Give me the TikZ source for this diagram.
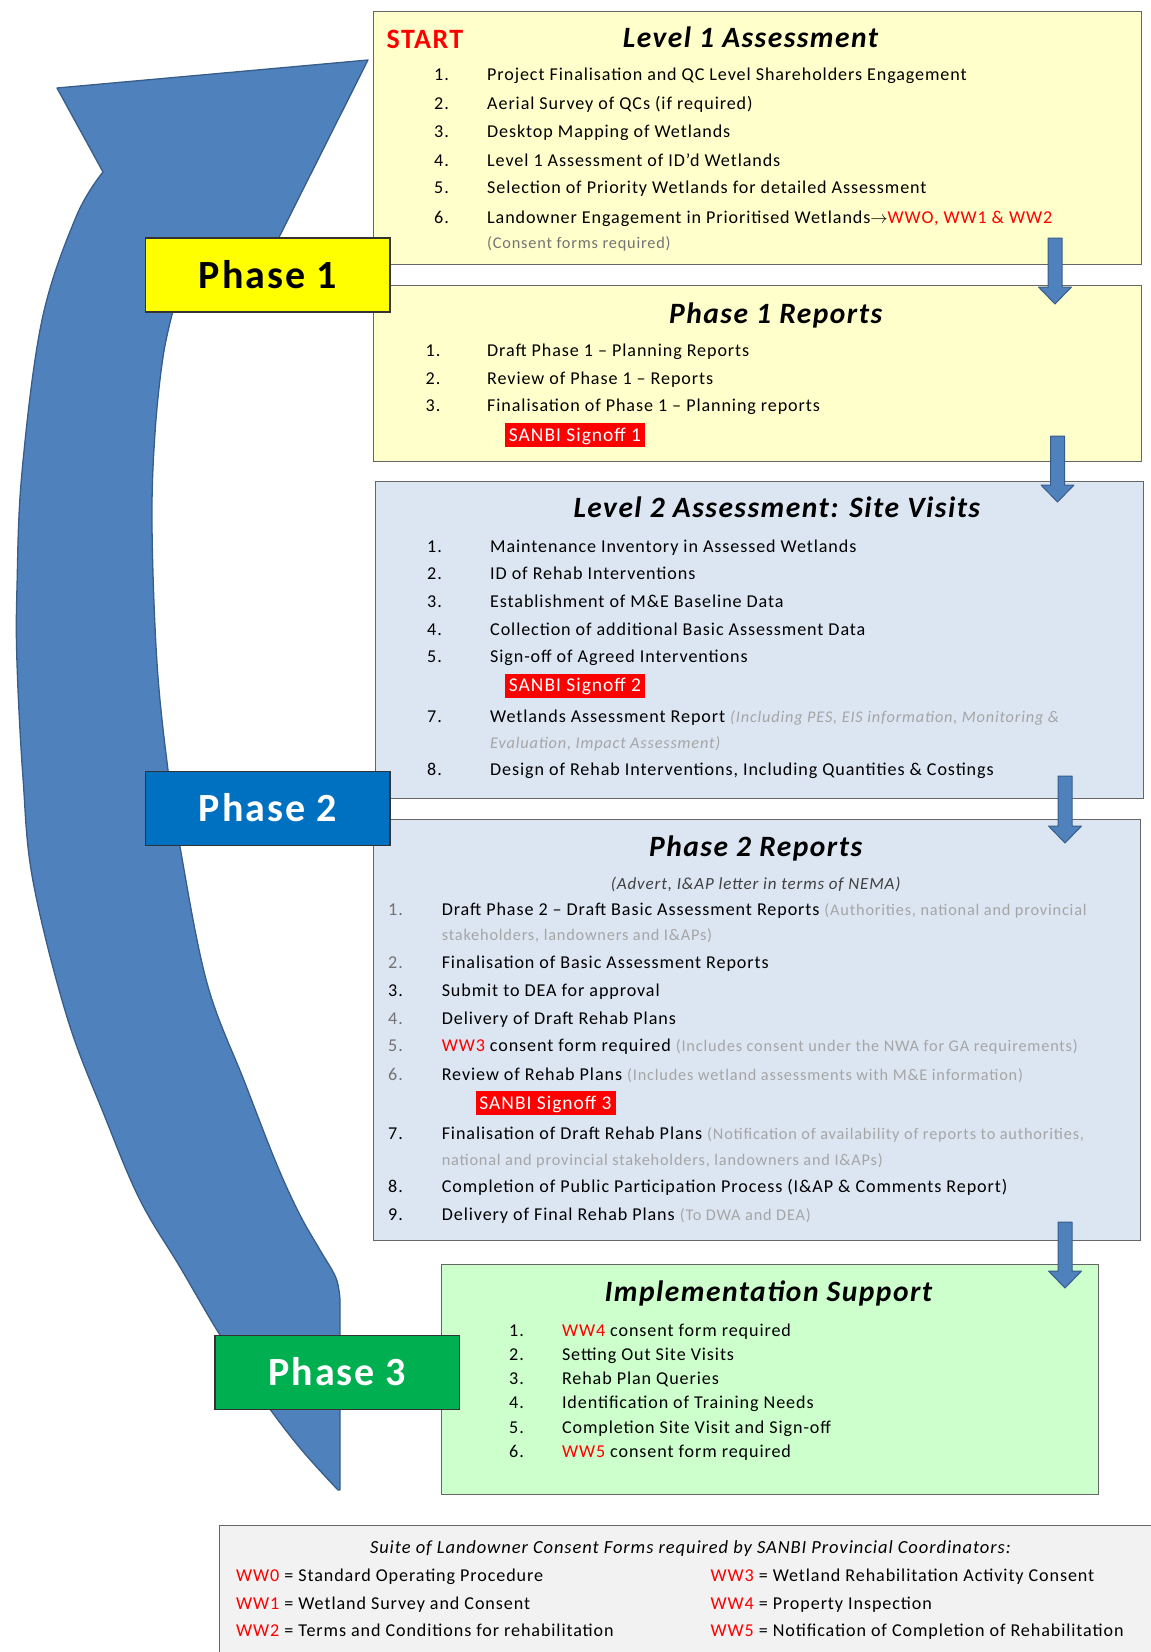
\documentclass[tikz,border=0pt]{standalone}
\usepackage{fontspec}
\setmainfont{Carlito}[LetterSpace=5]
\usetikzlibrary{positioning}
\definecolor{arrowblue}{RGB}{79,129,189}
\definecolor{arrowedge}{RGB}{56,93,138}
\definecolor{paleyellow}{RGB}{255,255,204}
\definecolor{paleblue}{RGB}{220,230,242}
\definecolor{palegreen}{RGB}{204,255,204}
\definecolor{legendgray}{RGB}{242,242,242}
\definecolor{phaseyellow}{RGB}{255,255,0}
\definecolor{phaseblue}{RGB}{0,112,192}
\definecolor{phasegreen}{RGB}{0,176,80}
\definecolor{wwred}{RGB}{255,0,0}
\definecolor{remarkgray}{RGB}{165,165,165}
\newcommand{\rmk}[1]{{\fontsize{16.3}{19}\selectfont\color{remarkgray}#1}}

\begin{document}
\begin{tikzpicture}[x=1pt, y=-1pt,
    stepbox/.style={draw=black!60, line width=1.3pt, rectangle, inner sep=0pt, anchor=north west},
    phasebox/.style={draw=black!80, line width=1.3pt, rectangle, inner sep=0pt, minimum width=244.5pt, minimum height=74pt, font=\fontsize{40}{44}\selectfont\bfseries, text height=26pt, text depth=0pt},
    boxtitle/.style={inner sep=0pt, font=\fontsize{29.5}{34}\selectfont\bfseries\itshape, text height=18.5pt, text depth=0pt},
    listitem/.style={anchor=west, inner sep=0pt, font=\fontsize{18.1}{22}\selectfont, text height=12pt, text depth=0pt},
    signoff/.style={fill=wwred, text=white, inner sep=0pt, minimum width=140pt, minimum height=24pt, font=\fontsize{19.5}{22}\selectfont, text height=12.5pt, text depth=0pt},
    downarrow/.style={fill=arrowblue, draw=arrowedge, line width=1pt, line join=round}
]
\useasboundingbox (0,0) rectangle (1151,1652);

% big curved arrow behind everything
\draw[fill=arrowblue, draw=arrowedge, line width=1.3pt, line join=round]
    (368,60) -- (57,88)
    -- plot[smooth, tension=0.6] coordinates {(103,172) (76,217) (42,320) (22,472) (17,587) (17,663) (23,778) (33,881) (67,1017) (105,1117) (140,1200) (180,1267) (220,1335) (262,1398) (300,1448) (338,1490)}
    -- (340,1490)
    -- plot[smooth, tension=0.6] coordinates {(340,1300) (336,1278) (320,1250) (300,1215) (277,1165) (245,1083) (207,983) (180,847) (168,770) (157,663) (152,525) (155,433) (163,357) (173,311)}
    -- (245,305) -- cycle;

% boxes
\node[stepbox, fill=paleyellow, minimum width=768pt, minimum height=253pt] (lvlone) at (373,10.5) {};
\node[stepbox, fill=paleyellow, minimum width=768pt, minimum height=176pt] (repone) at (373,284.6) {};
\node[stepbox, fill=paleblue, minimum width=767.5pt, minimum height=317.4pt] (lvltwo) at (375,480.6) {};
\node[stepbox, fill=paleblue, minimum width=767pt, minimum height=420.5pt] (reptwo) at (373,819) {};
\node[stepbox, fill=palegreen, minimum width=657.4pt, minimum height=229.5pt] (impl) at (440.6,1264) {};
\node[stepbox, fill=legendgray, minimum width=960pt, minimum height=150pt] (legend) at (219,1525) {};

% Level 1 Assessment
\node[boxtitle, text=wwred, font=\fontsize{28}{32}\selectfont\bfseries] (start) at (425,39) {START};
\node[boxtitle] (lvlone-title) at (750.5,38) {Level 1 Assessment};
\foreach \y/\n/\t in {74.8/1/{Project Finalisation and QC Level Shareholders Engagement},
    103.3/2/{Aerial Survey of QCs (if required)},
    131.8/3/{Desktop Mapping of Wetlands},
    160.2/4/{Level 1 Assessment of ID’d Wetlands},
    187.6/5/{Selection of Priority Wetlands for detailed Assessment},
    217.1/6/{Landowner Engagement in Prioritised Wetlands$\rightarrow${\color{wwred}WWO, WW1 \& WW2}}}
{
    \node[listitem] (lvlone-num\n) at (434,\y) {\n.};
    \node[listitem] (lvlone-item\n) at (487,\y) {\t};
}
\node[listitem] (lvlone-note) at (487,242.4) {\rmk{\color{black!55}(Consent forms required)}};

% Phase 1 Reports
\node[boxtitle] (repone-title) at (775.7,314) {Phase 1 Reports};
\foreach \y/\n/\t in {350/1/{Draft Phase 1 – Planning Reports},
    378.4/2/{Review of Phase 1 – Reports},
    405.8/3/{Finalisation of Phase 1 – Planning reports}}
{
    \node[listitem] (repone-num\n) at (425.5,\y) {\n.};
    \node[listitem] (repone-item\n) at (487,\y) {\t};
}
\node[signoff] (sanbione) at (575,435) {SANBI Signoff 1};

% Level 2 Assessment
\node[boxtitle] (lvltwo-title) at (776.8,508) {Level 2 Assessment: Site Visits};
\foreach \y/\n/\t in {546/1/{Maintenance Inventory in Assessed Wetlands},
    573.4/2/{ID of Rehab Interventions},
    601.8/3/{Establishment of M\&E Baseline Data},
    629.2/4/{Collection of additional Basic Assessment Data},
    656.6/5/{Sign-off of Agreed Interventions},
    716.7/7/{Wetlands Assessment Report \rmk{\itshape (Including PES, EIS information, Monitoring \&}},
    769.4/8/{Design of Rehab Interventions, Including Quantities \& Costings}}
{
    \node[listitem] (lvltwo-num\n) at (427,\y) {\n.};
    \node[listitem] (lvltwo-item\n) at (490,\y) {\t};
}
\node[listitem] (lvltwo-cont) at (490,742) {\rmk{\itshape Evaluation, Impact Assessment)}};
\node[signoff] (sanbitwo) at (575,685.6) {SANBI Signoff 2};

% Phase 2 Reports
\node[boxtitle] (reptwo-title) at (755.7,847.4) {Phase 2 Reports};
\node[listitem, anchor=center, font=\fontsize{17}{20}\selectfont\itshape, text=black!75] (reptwo-sub) at (755.7,883.3) {(Advert, I\&AP letter in terms of NEMA)};
\foreach \y/\n/\c/\t in {909.6/1/black!55/{Draft Phase 2 – Draft Basic Assessment Reports \rmk{(Authorities, national and provincial}},
    962.3/2/black!55/{Finalisation of Basic Assessment Reports},
    990.8/3/black/{Submit to DEA for approval},
    1018.2/4/black!55/{Delivery of Draft Rehab Plans},
    1045.6/5/black!55/{{\color{wwred}WW3} consent form required \rmk{ (Includes consent under the NWA for GA requirements)}},
    1074/6/black!55/{Review of Rehab Plans \rmk{(Includes wetland assessments with M\&E information)}},
    1133/7/black/{Finalisation of Draft Rehab Plans \rmk{(Notification of availability of reports to authorities,}},
    1186.8/8/black/{Completion of Public Participation Process (I\&AP \& Comments Report)},
    1214.2/9/black/{Delivery of Final Rehab Plans \rmk{(To DWA and DEA)}}}
{
    \node[listitem, text=\c] (reptwo-num\n) at (388,\y) {\n.};
    \node[listitem] (reptwo-item\n) at (441.6,\y) {\t};
}
\node[listitem] (reptwo-contone) at (441.6,934.9) {\rmk{stakeholders, landowners and I\&APs)}};
\node[listitem] (reptwo-conttwo) at (441.6,1159.4) {\rmk{national and provincial stakeholders, landowners and I\&APs)}};
\node[signoff] (sanbithree) at (545.5,1103) {SANBI Signoff 3};

% Implementation Support
\node[boxtitle] (impl-title) at (768.4,1292.2) {Implementation Support};
\foreach \y/\n/\t in {1330/1/{{\color{wwred}WW4} consent form required},
    1354.4/2/{Setting Out Site Visits},
    1378.6/3/{Rehab Plan Queries},
    1402.9/4/{Identification of Training Needs},
    1427.1/5/{Completion Site Visit and Sign-off},
    1451.4/6/{{\color{wwred}WW5} consent form required}}
{
    \node[listitem] (impl-num\n) at (509,\y) {\n.};
    \node[listitem] (impl-item\n) at (561.8,\y) {\t};
}

% legend of consent forms
\node[listitem, anchor=center, font=\fontsize{18.5}{22}\selectfont\itshape] (legend-title) at (690.4,1547.3) {Suite of Landowner Consent Forms required by SANBI Provincial Coordinators:};
\foreach \y/\n/\l/\r in {1575.7/0/{Standard Operating Procedure}/{Wetland Rehabilitation Activity Consent},
    1603.1/1/{Wetland Survey and Consent}/{Property Inspection},
    1630.5/2/{Terms and Conditions for rehabilitation}/{Notification of Completion of Rehabilitation}}
{
    \pgfmathtruncatemacro{\m}{\n+3}
    \node[listitem] (legend-left\n) at (236,\y) {{\color{wwred}WW\n} = \l};
    \node[listitem] (legend-right\n) at (710.4,\y) {{\color{wwred}WW\m} = \r};
}

% small arrows between the steps
\foreach \x/\ya/\yb in {1055/238/304, 1057.5/436/502, 1065/776/843, 1065/1222/1288}
{
    \draw[downarrow] ({\x-7},\ya) -- ({\x+7},\ya) -- ({\x+7},{\yb-17}) -- ({\x+16.5},{\yb-17})
        -- (\x,\yb) -- ({\x-16.5},{\yb-17}) -- ({\x-7},{\yb-17}) -- cycle;
}

% phase labels
\node[phasebox, fill=phaseyellow] (phaseone) at (267.75,275) {Phase 1};
\node[phasebox, fill=phaseblue, text=white] (phasetwo) at (267.75,808.25) {Phase 2};
\node[phasebox, fill=phasegreen, text=white] (phasethree) at (337.25,1372.2) {Phase 3};
\end{tikzpicture}
\end{document}
